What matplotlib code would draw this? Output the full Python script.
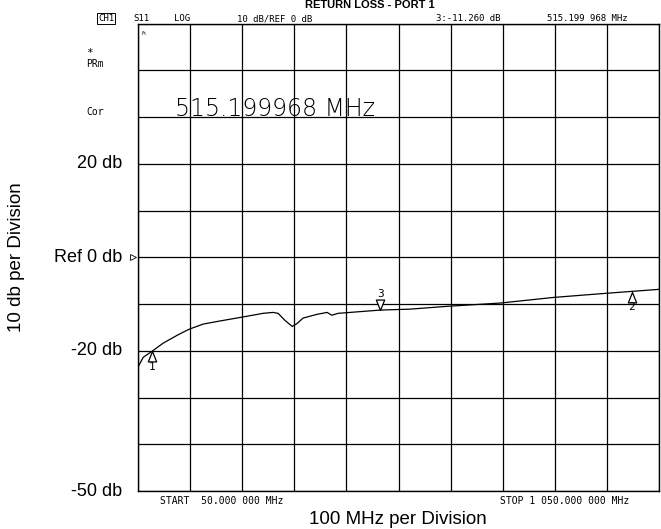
import numpy as np
import matplotlib
matplotlib.use('Agg')
import matplotlib.pyplot as plt

# trace (MHz, dB)
freq = [50, 60, 77, 98, 125, 148, 175, 204, 250, 290, 309, 319, 332, 346, 355,
        367, 394, 413, 422, 434, 457, 515, 572, 643, 745, 847, 950, 1046, 1050]
s11 = [-23.5, -21.4, -20.1, -18.4, -16.7, -15.4, -14.3, -13.7, -12.8, -12.0, -11.8,
       -12.0, -13.5, -14.8, -14.2, -13.0, -12.2, -11.8, -12.4, -12.0, -11.8, -11.3,
       -11.1, -10.5, -9.8, -8.6, -7.7, -6.9, -6.85]

marker_freq = [77, 998, 515.2]
marker_db = [-20.1, -7.4, -11.26]
marker_names = ['1', '2', '3']

ytick_vals = [20, 0, -20, -50]
ytick_labels = ['20 db', 'Ref 0 db', '-20 db', '-50 db']

fig = plt.figure(figsize=(6.61, 5.29), dpi=100)
ax = fig.add_axes([138/661, 1-491/529, 521/661, 467.5/529])
ax.set_xlim(50, 1050)
ax.set_ylim(-50, 50)
ax.set_xticks(np.arange(50, 1051, 100))
ax.set_xticklabels([])
ax.set_yticks(np.arange(-50, 51, 10))
ax.set_yticklabels([])
ax.grid(True, color='black', lw=0.9)
ax.tick_params(length=0)
for s in ax.spines.values():
    s.set_linewidth(1.0)

sans = 'Liberation Sans'
mono = 'DejaVu Sans Mono'
for v, lab in zip(ytick_vals, ytick_labels):
    ax.text(-0.03, (v+50)/100, lab, transform=ax.transAxes, ha='right', va='center',
            fontsize=13, family=sans)
# ref pointer
ax.plot([-0.009], [0.5], marker='>', ms=4, mfc='white', mec='black', mew=0.6,
        transform=ax.transAxes, clip_on=False)

ax.plot(freq, s11, color='black', lw=0.9)

# markers
up = [(0, 0), (-0.4, -1), (0.4, -1), (0, 0)]
down = [(0, 0), (-0.4, 1), (0.4, 1), (0, 0)]
for f, d, n in zip(marker_freq, marker_db, marker_names):
    if n == '3':
        ax.plot(f, d, marker=down, ms=15, mfc='white', mec='black', mew=0.9)
        ax.annotate(n, (f, d), xytext=(0, 8), textcoords='offset points',
                    ha='center', va='bottom', fontsize=8, family=mono)
    else:
        ax.plot(f, d, marker=up, ms=15, mfc='white', mec='black', mew=0.9)
        ax.annotate(n, (f, d), xytext=(0, -7.5), textcoords='offset points',
                    ha='center', va='top', fontsize=8, family=mono)

# screen annotations
fig.text(370/661, 1-0.5/529, 'RETURN LOSS - PORT 1', ha='center', va='top',
         fontsize=8, fontweight='bold', family=sans)
hy = 1-18.6/529
hs = 6.5
fig.text(98/661, hy, 'CH1', fontsize=hs, family=mono, va='center',
         bbox=dict(boxstyle='square,pad=0.1', fc='white', ec='black', lw=0.7))
fig.text(133/661, hy, 'S11', fontsize=hs, family=mono, va='center')
fig.text(174/661, hy, 'LOG', fontsize=hs, family=mono, va='center')
fig.text(237/661, hy, '10 dB/REF 0 dB', fontsize=hs, family=mono, va='center')
fig.text(436/661, hy, '3:-11.260 dB', fontsize=hs, family=mono, va='center')
fig.text(547/661, hy, '515.199 968 MHz', fontsize=hs, family=mono, va='center')
fig.text(86/661, 1-53/529, '*', fontsize=8, family=mono, va='center')
fig.text(86/661, 1-64/529, 'PRm', fontsize=7, family=mono, va='center')
fig.text(86/661, 1-112/529, 'Cor', fontsize=7, family=mono, va='center')
fig.text(141/661, 1-36/529, '\u02b1', fontsize=7, family='DejaVu Sans', va='center')
fig.text(175/661, 1-109/529, '515.199968 MHz', fontsize=17,
         family='DejaVu Sans', fontweight='light', va='center', color='black')
fig.text(160/661, 1-501/529, 'START  50.000 000 MHz', fontsize=7, family=mono, va='center')
fig.text(500/661, 1-501/529, 'STOP 1 050.000 000 MHz', fontsize=7, family=mono, va='center')

fig.text(398/661, 1-519/529, '100 MHz per Division', ha='center', va='center',
         fontsize=13.5, family=sans)
fig.text(17/661, 1-257/529, '10 db per Division', ha='center', va='center',
         rotation=90, fontsize=13.5, family=sans)

fig.savefig('out.png', dpi=100)
